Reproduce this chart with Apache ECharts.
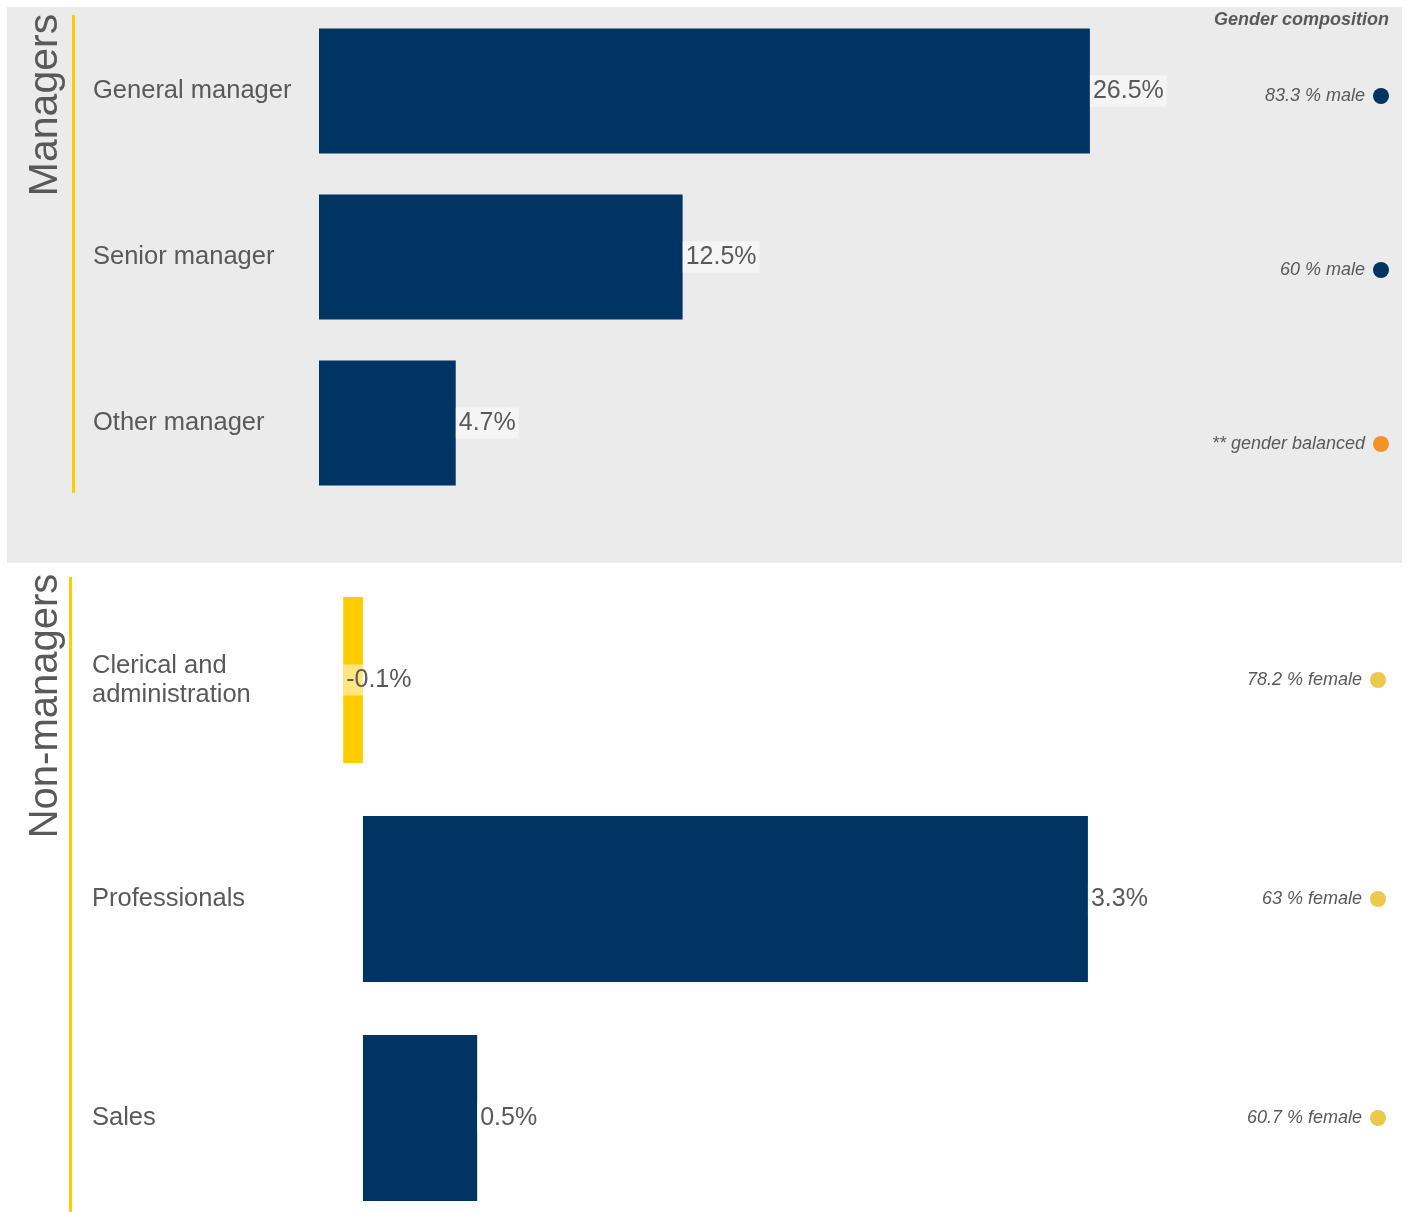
<!DOCTYPE html>
<html><head><meta charset="utf-8">
<script src="https://cdn.jsdelivr.net/npm/echarts@6/dist/echarts.min.js"></script>
<style>html,body{margin:0;padding:0;background:#fff;overflow:hidden}#c{width:1407px;height:1240px}</style>
</head><body><div id="c"></div>
<script>
// ---- data ----
var managerCats = ['General manager', 'Senior manager', 'Other manager'];
var managerGrowth = [26.5, 12.5, 4.7];
var managerComp = ['83.3 % male', '60 % male', '** gender balanced'];
var managerCompType = ['male', 'male', 'balanced'];
var nonManagerCats = ['Clerical and\nadministration', 'Professionals', 'Sales'];
var nonManagerGrowth = [-0.09, 3.3, 0.52];
var nonManagerComp = ['78.2 % female', '63 % female', '60.7 % female'];
var nonManagerCompType = ['female', 'female', 'female'];
var groupTitles = ['Managers', 'Non-managers'];

var FONT = "'Liberation Sans', Arial, sans-serif";
var TXT = '#595959';
var NAVY = '#003462';
var YELLOW = '#ffcc00';
var dotColors = { male: '#003462', balanced: '#f39325', female: '#ecc94b' };

function barData(vals) {
  return vals.map(function (v) {
    var d = { value: v, itemStyle: { color: v < 0 ? YELLOW : NAVY } };
    if (v < 0) d.label = { position: 'insideLeft', distance: 0 };
    return d;
  });
}
var valueLabel = {
  show: true, position: 'right', distance: 0,
  formatter: function (p) { return p.value.toFixed(1) + '%'; },
  fontFamily: FONT, fontSize: 25, color: TXT,
  backgroundColor: 'rgba(255,255,255,0.5)', padding: [5, 3, 1, 3]
};
function compRich() {
  var r = { t: { fontFamily: FONT, fontSize: 18, fontStyle: 'italic', color: TXT, padding: [0, 8, 0, 0] } };
  Object.keys(dotColors).forEach(function (k) {
    r[k] = { width: 16, height: 16, borderRadius: 8, backgroundColor: dotColors[k] };
  });
  return r;
}
function compFormatter(types, labels) {
  return function (val, idx) { return '{t|' + labels[idx] + '}{' + types[idx] + '|}'; };
}
var hiddenAxisLine = { show: false, onZero: false };

var chart = echarts.init(document.getElementById('c'));
chart.setOption({
  animation: false,
  backgroundColor: '#ffffff',
  graphic: [
    { type: 'rect', z: -10, shape: { x: 7, y: 7, width: 1395, height: 556 }, style: { fill: '#ebebeb' } },
    { type: 'line', shape: { x1: 73.5, y1: 15, x2: 73.5, y2: 493 }, style: { stroke: YELLOW, lineWidth: 3 } },
    { type: 'line', shape: { x1: 70.5, y1: 577, x2: 70.5, y2: 1212 }, style: { stroke: YELLOW, lineWidth: 3 } },
    { type: 'text', x: 46, y: 105, rotation: Math.PI / 2,
      style: { text: groupTitles[0], fontFamily: FONT, fontSize: 41, fill: TXT, align: 'center', verticalAlign: 'middle' } },
    { type: 'text', x: 46, y: 706, rotation: Math.PI / 2,
      style: { text: groupTitles[1], fontFamily: FONT, fontSize: 40, fill: TXT, align: 'center', verticalAlign: 'middle' } },
    { type: 'text', x: 1389, y: 20,
      style: { text: 'Gender composition', fontFamily: FONT, fontSize: 18, fontWeight: 'bold', fontStyle: 'italic', fill: TXT, align: 'right', verticalAlign: 'middle' } }
  ],
  grid: [
    { left: 319, top: 8, width: 872.7, height: 498 },
    { left: 319, top: 570.5, width: 922.7, height: 657 },
    { left: 319, top: 9, width: 872.7, height: 522 }
  ],
  xAxis: [
    { type: 'value', gridIndex: 0, min: 0, max: 30, show: false },
    { type: 'value', gridIndex: 1, min: -0.2, max: 4, show: false },
    { type: 'value', gridIndex: 2, min: 0, max: 1, show: false }
  ],
  yAxis: [
    { type: 'category', gridIndex: 0, data: managerCats, inverse: true,
      axisLine: hiddenAxisLine, axisTick: { show: false },
      axisLabel: { align: 'left', margin: 226, fontFamily: FONT, fontSize: 25.5, color: TXT, lineHeight: 29, padding: [5, 0, 0, 0] } },
    { type: 'category', gridIndex: 1, data: nonManagerCats, inverse: true,
      axisLine: hiddenAxisLine, axisTick: { show: false },
      axisLabel: { align: 'left', margin: 227, fontFamily: FONT, fontSize: 25.5, color: TXT, lineHeight: 29 } },
    { type: 'category', gridIndex: 1, data: nonManagerComp, inverse: true, position: 'right',
      axisLine: hiddenAxisLine, axisTick: { show: false },
      axisLabel: { align: 'right', margin: 1386 - 1241.7, formatter: compFormatter(nonManagerCompType, nonManagerComp), rich: compRich() } },
    { type: 'category', gridIndex: 2, data: managerComp, inverse: true, position: 'right',
      axisLine: hiddenAxisLine, axisTick: { show: false },
      axisLabel: { align: 'right', margin: 1389 - 1191.7, formatter: compFormatter(managerCompType, managerComp), rich: compRich() } }
  ],
  series: [
    { type: 'bar', xAxisIndex: 0, yAxisIndex: 0, barWidth: 125, data: barData(managerGrowth), label: valueLabel },
    { type: 'bar', xAxisIndex: 1, yAxisIndex: 1, barWidth: 166, data: barData(nonManagerGrowth), label: valueLabel }
  ]
});
</script></body></html>
